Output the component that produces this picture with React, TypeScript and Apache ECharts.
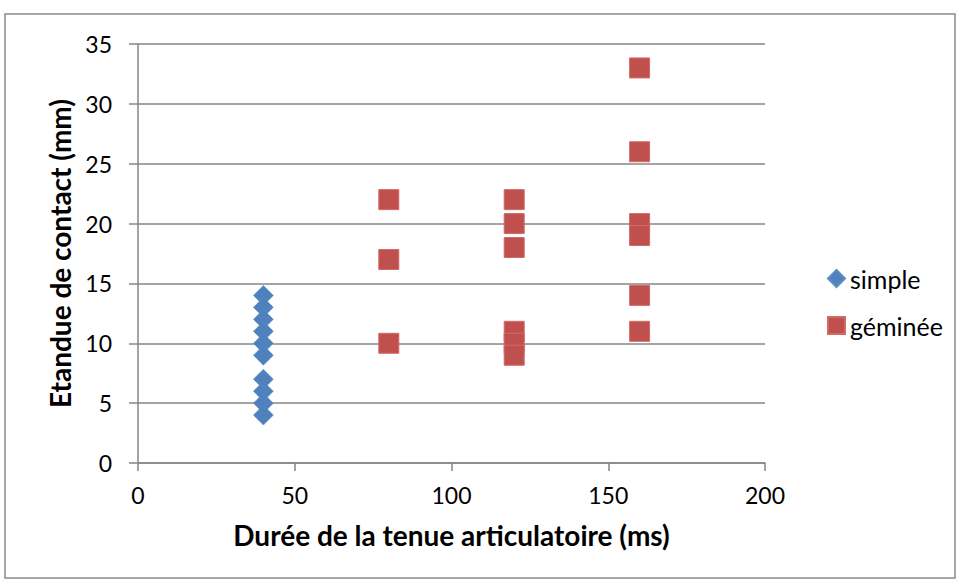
import React, { useEffect, useRef } from "react";
import * as echarts from "echarts";

const simpleX = [40, 40, 40, 40, 40, 40, 40, 40, 40, 40];
const simpleY = [14, 13, 12, 11, 10, 9, 7, 6, 5, 4];
const gemineeX = [80, 80, 80, 120, 120, 120, 120, 120, 120, 160, 160, 160, 160, 160, 160];
const gemineeY = [22, 17, 10, 22, 20, 18, 11, 10, 9, 33, 26, 20, 19, 14, 11];
const seriesNames = ["simple", "géminée"];
const xTitle = "Durée de la tenue articulatoire (ms)";
const yTitle = "Etandue de contact (mm)";

const FONT = "Lato, 'Open Sans', sans-serif";

export default function App() {
  const ref = useRef<HTMLDivElement>(null);
  useEffect(() => {
    if (!ref.current) return;
    const chart = echarts.init(ref.current, null, { renderer: "svg" });
    chart.setOption({
      animation: false,
      backgroundColor: "#ffffff",
      textStyle: { fontFamily: FONT },
      graphic: [
        {
          type: "rect",
          shape: { x: 5, y: 14, width: 950, height: 564 },
          style: { fill: "none", stroke: "#8a8a8a", lineWidth: 1.5 },
          silent: true,
        },
      ],
      grid: { left: 138, right: 192, top: 44, bottom: 118, containLabel: false },
      xAxis: {
        type: "value",
        min: 0,
        max: 200,
        interval: 50,
        name: xTitle,
        nameLocation: "middle",
        nameGap: 58,
        nameTextStyle: { fontSize: 28, fontWeight: "bold", color: "#000", fontFamily: FONT },
        axisLine: { show: true, onZero: false, lineStyle: { color: "#868686", width: 1.5 } },
        axisTick: { show: true, inside: false, length: 8, lineStyle: { color: "#868686", width: 1.5 } },
        axisLabel: { fontSize: 23, color: "#000", margin: 20, fontFamily: FONT },
        splitLine: { show: false },
      },
      yAxis: {
        type: "value",
        min: 0,
        max: 35,
        interval: 5,
        name: yTitle,
        nameLocation: "middle",
        nameGap: 61,
        nameRotate: 90,
        nameTextStyle: { fontSize: 28, fontWeight: "bold", color: "#000", fontFamily: FONT },
        axisLine: { show: true, lineStyle: { color: "#868686", width: 1.5 } },
        axisTick: { show: true, inside: false, length: 9, lineStyle: { color: "#868686", width: 1.5 } },
        axisLabel: { fontSize: 23, color: "#000", margin: 26, fontFamily: FONT },
        splitLine: { show: true, lineStyle: { color: "#868686", width: 1.5 } },
      },
      legend: {
        orient: "vertical",
        left: 827,
        top: 266,
        padding: 0,
        itemWidth: 17,
        itemHeight: 17,
        itemGap: 22,
        textStyle: { fontSize: 25, color: "#000", fontFamily: FONT },
        data: [
          { name: seriesNames[0], icon: "diamond" },
          { name: seriesNames[1], icon: "rect" },
        ],
      },
      series: [
        {
          name: seriesNames[0],
          type: "scatter",
          symbol: "diamond",
          symbolSize: 20,
          itemStyle: { color: "#4F81BD", borderColor: "#5b8cc6", borderWidth: 0.5, opacity: 1 },
          data: simpleX.map((x, i) => [x, simpleY[i]]),
        },
        {
          name: seriesNames[1],
          type: "scatter",
          symbol: "rect",
          symbolSize: 20,
          itemStyle: { color: "#C0504D", borderColor: "#d06a67", borderWidth: 1, opacity: 1 },
          data: gemineeX.map((x, i) => [x, gemineeY[i]]),
        },
      ],
    });
    return () => chart.dispose();
  }, []);
  return (
    <div
      ref={ref}
      style={{ position: "absolute", left: 0, top: 0, width: 957, height: 581 }}
    />
  );
}
